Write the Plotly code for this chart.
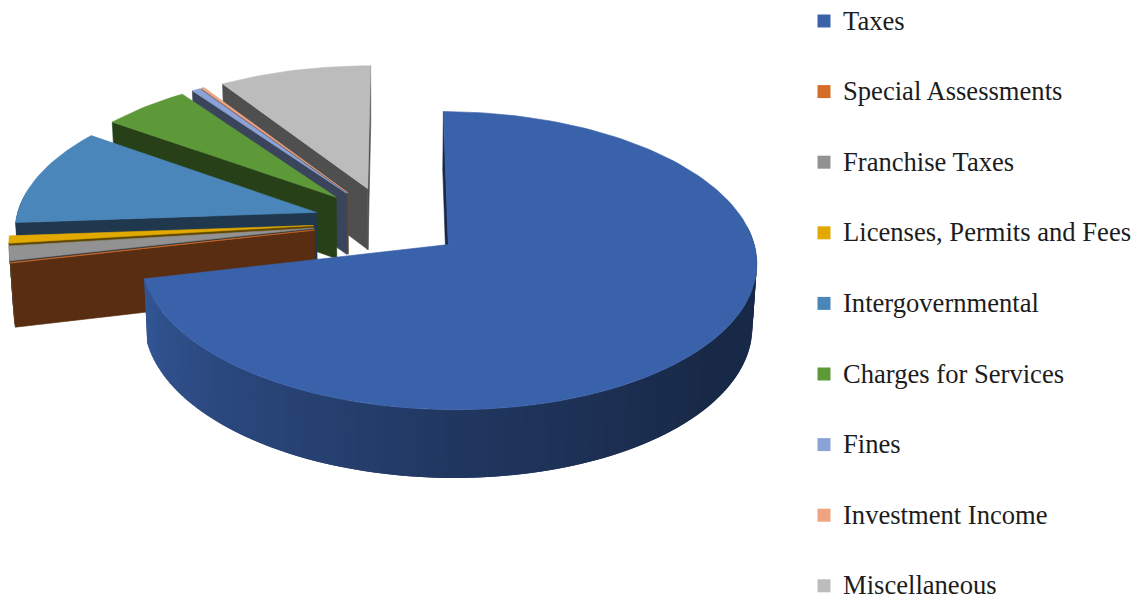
import math
import plotly.graph_objects as go

# Revenue sources, share of total (percent)
categories = ["Taxes", "Special Assessments", "Franchise Taxes",
              "Licenses, Permits and Fees", "Intergovernmental",
              "Charges for Services", "Fines", "Investment Income",
              "Miscellaneous"]
shares = [71.3, 0.1, 1.6, 0.8, 11.0, 5.3, 0.5, 0.2, 9.2]
colors = ["#3A62AB", "#D56C28", "#929292", "#E2A900", "#4A86BA",
          "#5E9939", "#8AA2D6", "#EFA380", "#BCBCBC"]

W, H = 1138, 599

# Perspective view of the pie
CX, CY = 388.4, 222.0      # pie centre on the page
RX, RY = 301.0, 142.5      # radii of the top face
THICK = 63.0               # wall height
PERSP = 0.106              # foreshortening with depth
DROP = 0.012               # extra foreshortening of the lower face
EXPLODE = 0.25             # slice offset, as a fraction of the radius
START = 0.2                # angle of the first slice, degrees clockwise from 12 o'clock
WALL_SHADE = 0.42

# Key placement
KEY_X, KEY_TEXT_X = 824, 843
KEY_TOP, KEY_STEP = 21, 70.6
KEY_TEXT_DROP = 2


def project(px, py, lower=False):
    w = 1 + PERSP * py + (DROP if lower else 0)
    sy = CY - RY * py / w
    if lower:
        sy += THICK / w
    return CX + RX * px / w, sy


def shade(hex_color, f):
    r, g, b = (int(hex_color[i:i + 2], 16) for i in (1, 3, 5))
    return f"rgb({r * f:.0f},{g * f:.0f},{b * f:.0f})"


def rim_shade(theta):
    # light falls from the left: the wall darkens from the left side to the right
    if theta > 258:
        return WALL_SHADE
    stops = [(90, 0.42), (130, 0.42), (180, 0.56), (230, 0.76), (258, 0.88)]
    for (a0, f0), (a1, f1) in zip(stops, stops[1:]):
        if theta <= a1:
            return f0 + (f1 - f0) * max(0.0, theta - a0) / (a1 - a0)
    return stops[-1][1]


def area(pts):
    return sum(a[0] * b[1] - b[0] * a[1] for a, b in zip(pts, pts[1:] + pts[:1]))


fig = go.Figure()


def polygon(pts, color, edge=0.6):
    xs = [p[0] for p in pts] + [pts[0][0]]
    ys = [p[1] for p in pts] + [pts[0][1]]
    fig.add_trace(go.Scatter(x=xs, y=ys, mode="lines", fill="toself", fillcolor=color,
                             line=dict(color=color, width=edge), hoverinfo="skip",
                             showlegend=False))


# Slice extents in degrees
total = sum(shares)
edges = [START]
for s in shares:
    edges.append(edges[-1] + s / total * 360)

# Paint from the back slice forward
for i in reversed(range(len(shares))):
    a, b = edges[i], edges[i + 1]
    mid = math.radians((a + b) / 2)
    ox, oy = EXPLODE * math.sin(mid), EXPLODE * math.cos(mid)
    n = max(2, int((b - a) / 1.5))
    angles = [a + (b - a) * k / n for k in range(n + 1)]

    def rim(t):
        r = math.radians(t)
        return ox + math.sin(r), oy + math.cos(r)

    col = colors[i]
    apex_t, apex_b = project(ox, oy), project(ox, oy, True)

    # radial walls, only where they face the viewer
    q = [apex_t, project(*rim(b)), project(*rim(b), True), apex_b]
    if area(q) > 0:
        polygon(q, shade(col, WALL_SHADE))
    q = [apex_t, project(*rim(a)), project(*rim(a), True), apex_b]
    if area(q) < 0:
        polygon(q, shade(col, WALL_SHADE))

    # outer wall as narrow shaded strips; each strip runs under the next one
    step = angles[1] - angles[0]
    for t0, t1 in zip(angles, angles[1:]):
        if math.cos(math.radians((t0 + t1) / 2)) < 0.12:
            t2 = min(t1 + step, b)
            q = [project(*rim(t)) for t in (t0, t1, t2)] + \
                [project(*rim(t), True) for t in (t2, t1, t0)]
            polygon(q, shade(col, rim_shade((t0 + t1) / 2)), edge=0)

    # top face
    polygon([apex_t] + [project(*rim(t)) for t in angles], col)

# Key: square swatches and labels
key_y = [KEY_TOP + KEY_STEP * k for k in range(len(categories))]
fig.add_trace(go.Scatter(x=[KEY_X] * len(categories), y=key_y, mode="markers",
                         marker=dict(symbol="square", size=13, color=colors),
                         hoverinfo="skip", showlegend=False, cliponaxis=False))
fig.add_trace(go.Scatter(x=[KEY_TEXT_X] * len(categories),
                         y=[v + KEY_TEXT_DROP for v in key_y], mode="text",
                         text=categories, textposition="middle right",
                         textfont=dict(family="Liberation Serif", size=26.6, color="#1c1c1c"),
                         hoverinfo="skip", showlegend=False, cliponaxis=False))

fig.update_layout(
    width=W, height=H, margin=dict(l=0, r=0, t=0, b=0),
    paper_bgcolor="white", plot_bgcolor="white", showlegend=False,
    xaxis=dict(range=[0, W], visible=False, fixedrange=True),
    yaxis=dict(range=[H, 0], visible=False, fixedrange=True),
)

fig.write_html("out.html", config=dict(displayModeBar=False))
